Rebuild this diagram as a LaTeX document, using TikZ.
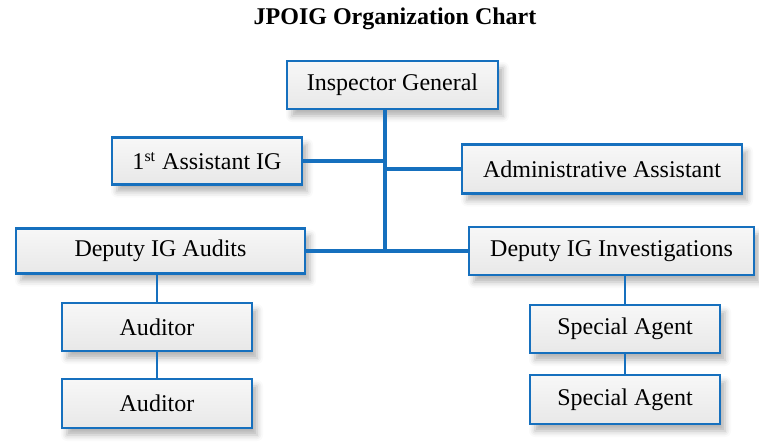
\documentclass[tikz,border=0pt]{standalone}
\usepackage{fontspec}
\setmainfont{Liberation Serif}
\usetikzlibrary{shadows.blur}
\definecolor{igblue}{RGB}{22,112,190}
\tikzset{
  orgbox/.style={draw=igblue, line width=1.3pt, top color=white!97!black, bottom color=white!91!black,
    blur shadow={shadow xshift=2.5pt, shadow yshift=-3.5pt, shadow blur radius=3pt, shadow opacity=30},
    inner sep=0pt, font=\fontsize{12}{14}\selectfont},
  mainline/.style={igblue, line width=1.7pt},
  subline/.style={igblue, line width=0.7pt}
}
\begin{document}
\begin{tikzpicture}[x=0.5pt,y=-0.5pt]
\useasboundingbox (0,0) rectangle (759,445);

% Titulo
\node (title) at (395,19) {\fontsize{12}{14}\selectfont\bfseries JPOIG Organization Chart};

% Cajas
\node[orgbox, minimum width=105.5pt, minimum height=24pt] (ig) at (392.5,85) {Inspector General};
\node[orgbox, minimum width=95pt, minimum height=23.5pt] (aig) at (207,161) {1\textsuperscript{st} Assistant IG};
\node[orgbox, minimum width=140pt, minimum height=24.5pt] (admin) at (602,169) {Administrative Assistant};
\node[orgbox, minimum width=144.5pt, minimum height=22.5pt] (depa) at (160.5,251) {Deputy IG Audits};
\node[orgbox, minimum width=142.5pt, minimum height=24pt] (depi) at (611.5,251) {Deputy IG Investigations};

\node[orgbox, minimum width=95pt, minimum height=24pt] (aud1) at (157,327) {Auditor};
\node[orgbox, minimum width=95pt, minimum height=24.5pt] (aud2) at (157,403.5) {Auditor};
\node[orgbox, minimum width=95pt, minimum height=24pt] (sa1) at (625,329) {Special Agent};
\node[orgbox, minimum width=95pt, minimum height=24.5pt] (sa2) at (625,399.5) {Special Agent};

% Lineas
\coordinate (trunk) at (385,252);
\draw[mainline] (ig.south -| trunk) -- (trunk);
\draw[mainline] (aig.east) -- (aig.east -| trunk);
\draw[mainline] (admin.west) -- (admin.west -| trunk);
\draw[mainline] (depa.east) -- (depi.west);

\draw[subline] (depa.south -| aud1.north) -- (aud1.north);
\draw[subline] (aud1.south) -- (aud2.north);
\draw[subline] (depi.south -| sa1.north) -- (sa1.north);
\draw[subline] (sa1.south) -- (sa2.north);
\end{tikzpicture}
\end{document}
